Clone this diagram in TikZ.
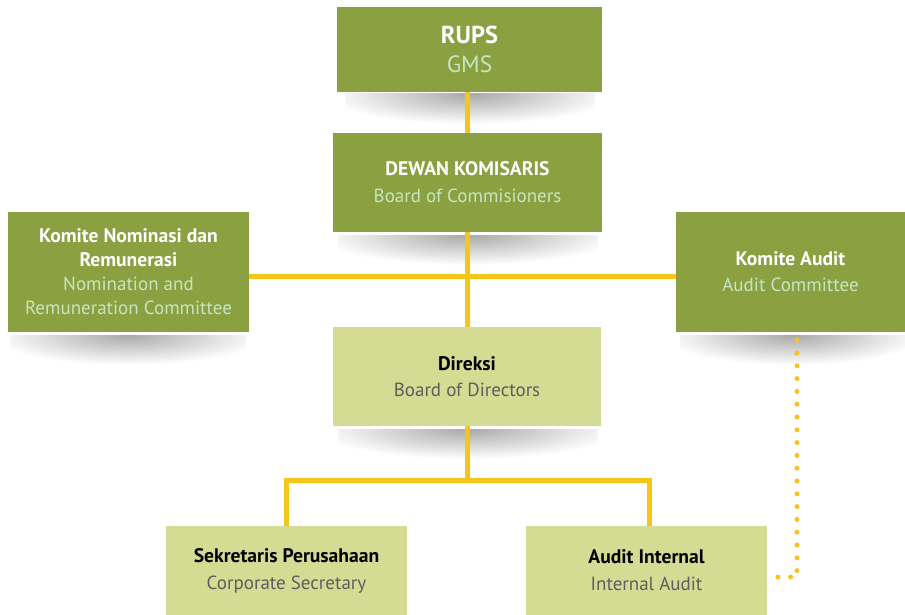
\documentclass[tikz,border=0pt]{standalone}
\usepackage{fontspec}
\setmainfont{PT Sans}
\usetikzlibrary{calc}
\definecolor{dkgreen}{HTML}{8BA040}
\definecolor{ltgreen}{HTML}{D3DC92}
\definecolor{mint}{HTML}{C6E6C2}
\definecolor{txtgray}{HTML}{5E5E5E}
\definecolor{conn}{HTML}{F5C518}
\newcommand\boxshadow[3]{% x1, x2, ytop
  \begin{scope}
    \clip (#1,#3) rectangle (#2,#3+34);
    \shade[inner color=black!34, outer color=white] ({(#1+#2)/2},#3) ellipse ({0.58*(#2-#1)} and 30);
  \end{scope}}
\newcommand\bl[1]{{\fontsize{19.6}{24}\selectfont\bfseries #1}}
\tikzset{
  darkbox/.style={fill=dkgreen, inner sep=0pt, align=center, text=white},
  lightbox/.style={fill=ltgreen, inner sep=0pt, align=center, text=black},
  link/.style={draw=conn, line width=5pt},
  dotlink/.style={draw=conn, line width=5pt, line cap=round, dash pattern=on 0pt off 12.8pt},
}
\begin{document}
\begin{tikzpicture}[x=1pt,y=-1pt]
\useasboundingbox (0,0) rectangle (905,615);
% shadows
\boxshadow{345}{595}{94}
\boxshadow{338}{598}{235}
\boxshadow{10}{246}{335}
\boxshadow{680}{905}{335}
\boxshadow{338}{598}{429}
% boxes
\node[darkbox, minimum width=265pt, minimum height=85pt, font=\fontsize{23.5}{29}\selectfont] (rups) at (469.5,49.5)
  {{\fontsize{24.5}{29}\selectfont\bfseries RUPS}\\{\color{mint}GMS}};
\node[darkbox, minimum width=269pt, minimum height=99pt, font=\fontsize{19}{27}\selectfont] (dewan) at (467.5,182.5)
  {\bl{DEWAN KOMISARIS}\\{\color{mint}Board of Commisioners}};
\node[darkbox, minimum width=241pt, minimum height=120pt, font=\fontsize{19}{24}\selectfont] (kn) at (128.5,272)
  {\bl{Komite Nominasi dan}\\\bl{Remunerasi}\\{\color{mint}Nomination and}\\{\color{mint}Remuneration Committee}};
\node[darkbox, minimum width=229pt, minimum height=120pt, font=\fontsize{19}{26}\selectfont] (ka) at (790.5,272)
  {\bl{Komite Audit}\\{\color{mint}Audit Committee}};
\node[lightbox, minimum width=268pt, minimum height=99pt, font=\fontsize{19}{26}\selectfont] (dir) at (467,376.5)
  {\bl{Direksi}\\{\color{txtgray}Board of Directors}};
\node[lightbox, minimum width=241pt, minimum height=89pt, font=\fontsize{19}{27}\selectfont] (sek) at (286.5,570.5)
  {\bl{Sekretaris Perusahaan}\\{\color{txtgray}Corporate Secretary}};
\node[lightbox, minimum width=241pt, minimum height=89pt, font=\fontsize{19}{27}\selectfont] (ai) at (646.5,570.5)
  {\bl{Audit Internal}\\{\color{txtgray}Internal Audit}};
% connectors
\coordinate (hj) at (467,276);
\coordinate (bj) at (467,480);
\coordinate (dj) at (797,577);
\draw[link] (dewan.north -| hj) -- (rups.south -| hj);
\draw[link] (dewan.south -| hj) -- (dir.north -| hj);
\draw[link] (kn.east |- hj) -- (ka.west |- hj);
\draw[link] (dir.south -| bj) -- (bj);
\draw[link] (sek.north) |- (bj) -| ($(ai.north)+(3,0)$);
\draw[dotlink] (dj |- ka.south) ++(0,8) -- (dj) -- (ai.east |- dj);
\end{tikzpicture}
\end{document}
